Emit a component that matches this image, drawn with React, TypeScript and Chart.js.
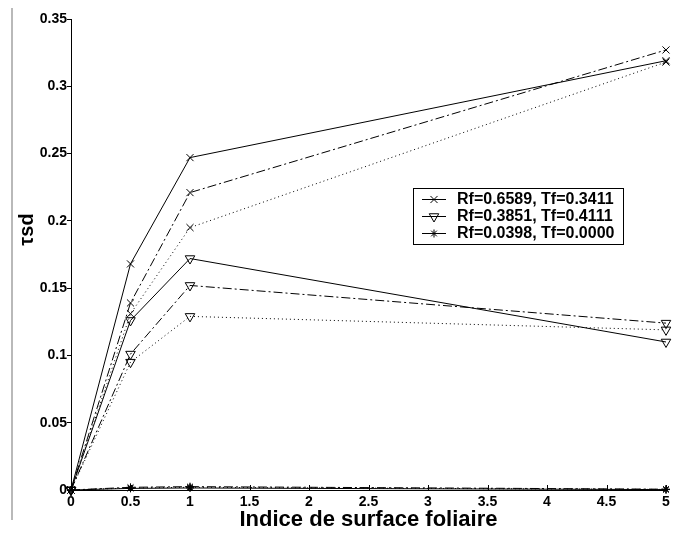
import React, { useEffect, useRef } from "react";
import { Chart, registerables } from "chart.js";
import { drawPoint } from "chart.js/helpers";

Chart.register(...registerables);

// ---- data ----
const xValues = [0, 0.5, 1, 5];
const xTicks = [0, 0.5, 1, 1.5, 2, 2.5, 3, 3.5, 4, 4.5, 5];
const xTickLabels = ["0", "0.5", "1", "1.5", "2", "2.5", "3", "3.5", "4", "4.5", "5"];
const yTicks = [0, 0.05, 0.1, 0.15, 0.2, 0.25, 0.3, 0.35];
const yTickLabels = ["0", "0.05", "0.1", "0.15", "0.2", "0.25", "0.3", "0.35"];

const seriesNames = ["Rf=0.6589, Tf=0.3411", "Rf=0.3851, Tf=0.4111", "Rf=0.0398, Tf=0.0000"];

// Rf=0.6589 (x markers)
const rfA_solid = [0, 0.168, 0.247, 0.319];
const rfA_dashDot = [0, 0.139, 0.221, 0.327];
const rfA_dotted = [0, 0.131, 0.195, 0.318];
// Rf=0.3851 (triangle markers)
const rfB_solid = [0, 0.126, 0.172, 0.11];
const rfB_dashDot = [0, 0.101, 0.152, 0.124];
const rfB_dotted = [0, 0.095, 0.129, 0.119];
// Rf=0.0398 (star markers)
const rfC_solid = [0, 0.0012, 0.0015, 0.0003];
const rfC_dashDot = [0, 0.002, 0.0025, 0.0006];
const rfC_dotted = [0, 0.0015, 0.002, 0.0004];

const FONT = "'Liberation Sans', Arial, Helvetica, sans-serif";

const markers = [
  { pointStyle: "crossRot", radius: 5, rotation: 0 },
  { pointStyle: "triangle", radius: 5.5, rotation: 180 },
  { pointStyle: "star", radius: 4, rotation: 0 },
];
const dashes: number[][] = [[], [9, 3, 2, 3], [1, 3]];
const groups = [
  [rfA_solid, rfA_dashDot, rfA_dotted],
  [rfB_solid, rfB_dashDot, rfB_dotted],
  [rfC_solid, rfC_dashDot, rfC_dotted],
];

function buildDatasets() {
  const ds: any[] = [];
  groups.forEach((g, gi) => {
    g.forEach((vals, li) => {
      ds.push({
        label: seriesNames[gi] + (li === 0 ? "" : li === 1 ? " (-.)" : " (:)"),
        data: xValues.map((x, i) => ({ x, y: vals[i] })),
        borderColor: "#000",
        borderWidth: 1,
        borderDash: dashes[li],
        backgroundColor: "rgba(0,0,0,0)",
        pointStyle: markers[gi].pointStyle,
        pointRadius: markers[gi].radius,
        pointRotation: markers[gi].rotation,
        pointBorderColor: "#000",
        pointBackgroundColor: "rgba(0,0,0,0)",
        pointBorderWidth: 1,
        tension: 0,
        fill: false,
        clip: false,
      });
    });
  });
  return ds;
}

const legendPlugin = {
  id: "boxLegend",
  afterDraw(chart: any) {
    const ctx = chart.ctx;
    const left = 413, top = 188, width = 210, height = 56, rowH = 17;
    ctx.save();
    ctx.fillStyle = "#fff";
    ctx.fillRect(left, top, width, height);
    ctx.strokeStyle = "#000";
    ctx.lineWidth = 1;
    ctx.strokeRect(left + 0.5, top + 0.5, width, height);
    seriesNames.forEach((name, i) => {
      const y = top + 11 + i * rowH;
      ctx.setLineDash([]);
      ctx.beginPath();
      ctx.moveTo(left + 9, y + 0.5);
      ctx.lineTo(left + 33, y + 0.5);
      ctx.strokeStyle = "#000";
      ctx.stroke();
      ctx.fillStyle = "rgba(0,0,0,0)";
      drawPoint(ctx, { pointStyle: markers[i].pointStyle, radius: markers[i].radius, rotation: markers[i].rotation, borderWidth: 1 } as any, left + 21, y + 0.5);
      ctx.fillStyle = "#000";
      ctx.font = `bold 16px ${FONT}`;
      ctx.textBaseline = "middle";
      ctx.textAlign = "left";
      ctx.fillText(name, left + 44, y + 1);
    });
    ctx.restore();
  },
};

const innerTickPlugin = {
  id: "innerTicks",
  afterDraw(chart: any) {
    const ctx = chart.ctx;
    const xs = chart.scales.x;
    const bottom = chart.chartArea.bottom;
    ctx.save();
    ctx.strokeStyle = "#000";
    ctx.lineWidth = 1;
    ctx.beginPath();
    xTicks.forEach((v) => {
      const px = Math.round(xs.getPixelForValue(v)) + 0.5;
      ctx.moveTo(px, bottom);
      ctx.lineTo(px, bottom - 5);
    });
    ctx.stroke();
    ctx.restore();
  },
};

export default function App() {
  const ref = useRef<HTMLCanvasElement>(null);
  useEffect(() => {
    const canvas = ref.current!;
    const chart = new Chart(canvas, {
      type: "line",
      data: { datasets: buildDatasets() },
      options: {
        responsive: false,
        animation: false,
        devicePixelRatio: 1,
        layout: { padding: { top: 19, right: 11, left: 0, bottom: 0 } },
        plugins: { legend: { display: false }, tooltip: { enabled: false } },
        scales: {
          x: {
            type: "linear",
            min: 0,
            max: 5,
            afterFit: (s: any) => { s.height = 43; },
            afterBuildTicks: (s: any) => { s.ticks = xTicks.map((v) => ({ value: v })); },
            ticks: {
              callback: (_v: any, i: number) => xTickLabels[i],
              font: { family: FONT, size: 14, weight: "bold" },
              color: "#000",
              padding: 4,
              maxRotation: 0,
              autoSkip: false,
            },
            grid: { display: true, drawOnChartArea: false, drawTicks: false },
            border: { display: true, color: "#000", width: 1 },
            title: {
              display: true,
              text: "Indice de surface foliaire",
              font: { family: FONT, size: 22, weight: "bold" },
              color: "#000",
              padding: 0,
            },
          },
          y: {
            type: "linear",
            min: 0,
            max: 0.35,
            afterFit: (s: any) => { s.width = 71; },
            afterBuildTicks: (s: any) => { s.ticks = yTicks.map((v) => ({ value: v })); },
            ticks: {
              callback: (_v: any, i: number) => yTickLabels[i],
              font: { family: FONT, size: 14, weight: "bold" },
              color: "#000",
              padding: 0,
              autoSkip: false,
            },
            grid: { display: true, drawOnChartArea: false, drawTicks: true, tickLength: 4, color: "#000" },
            border: { display: true, color: "#000", width: 1 },
            title: {
              display: true,
              text: "         τsd",
              font: { family: FONT, size: 20, weight: "bold" },
              color: "#000",
              padding: { top: 15, bottom: 0 },
            },
          },
        },
      } as any,
      plugins: [innerTickPlugin, legendPlugin],
    });
    return () => chart.destroy();
  }, []);
  return (
    <div style={{ position: "absolute", left: 0, top: 0, width: 677, height: 533, background: "#fff" }}>
      <div style={{ position: "absolute", left: 11, top: 8, width: 2, height: 512, background: "#b9b9b9" }} />
      <canvas ref={ref} width={677} height={533} style={{ position: "absolute", left: 0, top: 0, width: 677, height: 533 }} />
    </div>
  );
}
